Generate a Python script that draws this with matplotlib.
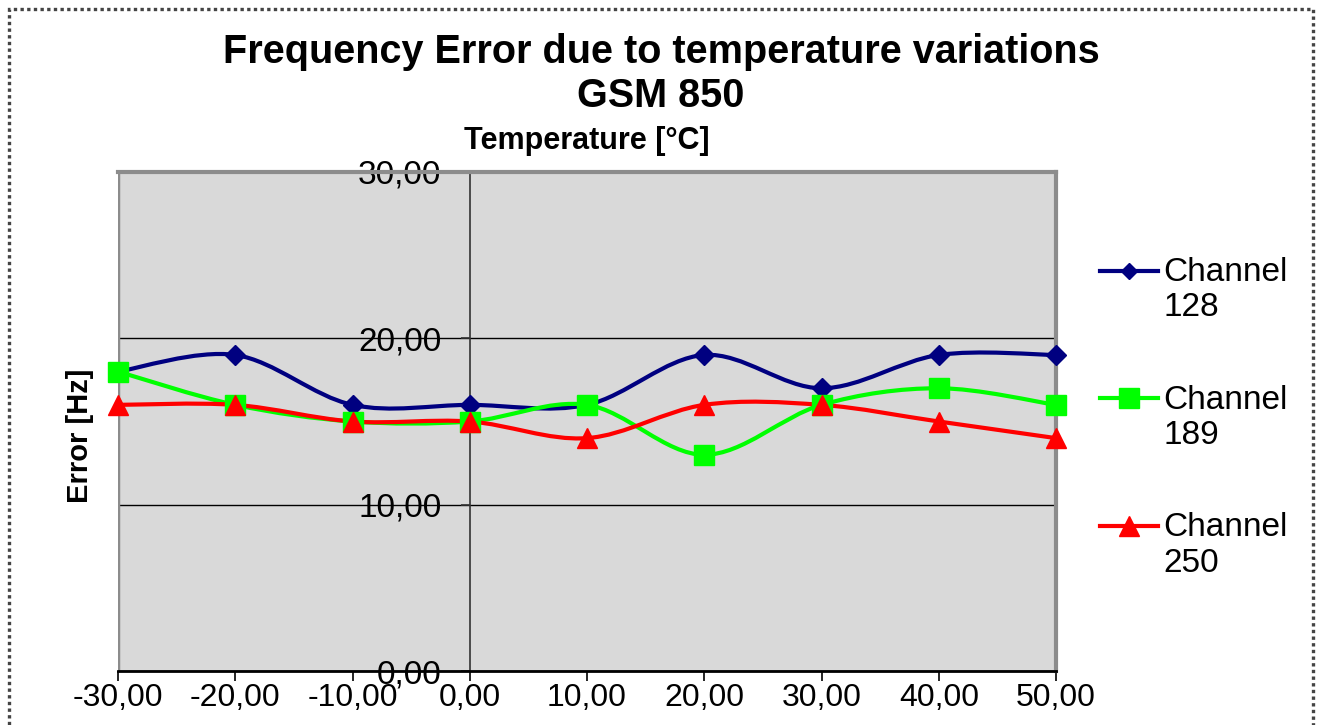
import numpy as np
import matplotlib
matplotlib.use("Agg")
import matplotlib.pyplot as plt
from matplotlib.path import Path
from matplotlib.patches import PathPatch, Rectangle
from matplotlib.lines import Line2D
from matplotlib.legend_handler import HandlerLine2D

plt.rcParams['font.family'] = ['Liberation Sans', 'DejaVu Sans']

temperatures = [-30, -20, -10, 0, 10, 20, 30, 40, 50]
channel_128 = [18, 19, 16, 16, 16, 19, 17, 19, 19]
channel_189 = [18, 16, 15, 15, 16, 13, 16, 17, 16]
channel_250 = [16, 16, 15, 15, 14, 16, 16, 15, 14]
series_names = ["Channel\n128", "Channel\n189", "Channel\n250"]
x_ticks = [-30, -20, -10, 0, 10, 20, 30, 40, 50]
y_ticks = [0, 10, 20, 30]

W, H = 1322, 725
fig = plt.figure(figsize=(W / 100, H / 100), dpi=100)

# outer dotted border
fig.patches.append(Rectangle((9 / W, -0.05), (1313 - 9) / W, 1 - 9 / H + 0.05,
                             transform=fig.transFigure, fill=False,
                             edgecolor='#444444', linestyle=(0, (1, 1)), linewidth=2.4))

ax = fig.add_axes([118 / W, 1 - 671 / H, (1056 - 118) / W, (671 - 172) / H])
ax.set_facecolor('#d9d9d9')
ax.set_xlim(-30, 50)
ax.set_ylim(0, 30)

for s in ['top', 'right']:
    ax.spines[s].set_color('#8c8c8c')
    ax.spines[s].set_linewidth(3)
ax.spines['bottom'].set_color('black')
ax.spines['bottom'].set_linewidth(2)
ax.spines['left'].set_position(('data', 0))
ax.spines['left'].set_color('#333333')
ax.spines['left'].set_linewidth(1.2)
ax.spines['left'].set_zorder(1)

# left border of plot area (grey)
ax.axvline(-30, color='#8c8c8c', linewidth=2.5, zorder=1)

ax.set_yticks(y_ticks)
ax.set_yticklabels([f"{v:.2f}".replace('.', ',') for v in y_ticks], fontsize=24)
ax.tick_params(axis='y', direction='out', length=6.5, width=1.2, color='#333333', pad=14)
ax.set_xticks(x_ticks)
ax.set_xticklabels([f"{v:.2f}".replace('.', ',') for v in x_ticks], fontsize=23)
ax.tick_params(axis='x', direction='out', length=7, width=1.2, color='black', pad=2)

ax.grid(axis='y', color='black', linewidth=1)
ax.set_axisbelow(True)


def smooth_path(xs, ys):
    pts = np.column_stack([xs, ys]).astype(float)
    n = len(pts)
    verts = [pts[0]]
    codes = [Path.MOVETO]
    for i in range(n - 1):
        p0 = pts[i - 1] if i > 0 else pts[i]
        p1 = pts[i]
        p2 = pts[i + 1]
        p3 = pts[i + 2] if i + 2 < n else pts[i + 1]
        c1 = p1 + (p2 - p0) / 6.0
        c2 = p2 - (p3 - p1) / 6.0
        verts += [c1, c2, p2]
        codes += [Path.CURVE4] * 3
    return Path(verts, codes)


styles = [
    (channel_128, '#000080', 'D', 10.5, 8.5),
    (channel_189, '#00ff00', 's', 15, 14),
    (channel_250, '#ff0000', '^', 14.5, 14),
]
handles = []
for vals, col, mk, ms, lms in styles:
    patch = PathPatch(smooth_path(temperatures, vals), facecolor='none',
                      edgecolor=col, linewidth=3.0, zorder=3, clip_on=False)
    ax.add_patch(patch)
    ax.plot(temperatures, vals, linestyle='none', marker=mk, markersize=ms,
            color=col, markeredgecolor=col, zorder=4, clip_on=False)
    handles.append(Line2D([], [], color=col, linewidth=3.0, marker=mk,
                          markersize=lms, markeredgecolor=col))

LEG_LS = 1.18


class TopLineHandler(HandlerLine2D):
    def create_artists(self, legend, orig_handle, xdescent, ydescent, width,
                       height, fontsize, trans):
        off = LEG_LS * fontsize
        return super().create_artists(legend, orig_handle, xdescent, ydescent - off,
                                      width, height, fontsize, trans)


leg = fig.legend(handles, series_names, loc='upper left',
                 bbox_to_anchor=(1100 / W, 1 - 257 / H), frameon=False, fontsize=24,
                 handlelength=1.75, handletextpad=0.15, labelspacing=1.84, borderpad=0,
                 borderaxespad=0,
                 handler_map={Line2D: TopLineHandler(numpoints=1)})
for t in leg.get_texts():
    t.set_linespacing(LEG_LS)

fig.text(661 / W, 1 - 52 / H, "Frequency Error due to temperature variations",
         ha='center', va='center', fontsize=28.5, fontweight='bold')
fig.text(661 / W, 1 - 96 / H, "GSM 850", ha='center', va='center',
         fontsize=28.5, fontweight='bold')
fig.text(587 / W, 1 - 141 / H, "Temperature [°C]", ha='center', va='center',
         fontsize=22, fontweight='bold')
fig.text(80 / W, 1 - 436 / H, "Error [Hz]", ha='center', va='center',
         fontsize=21, fontweight='bold', rotation=90)

fig.savefig('out.png', dpi=100)
